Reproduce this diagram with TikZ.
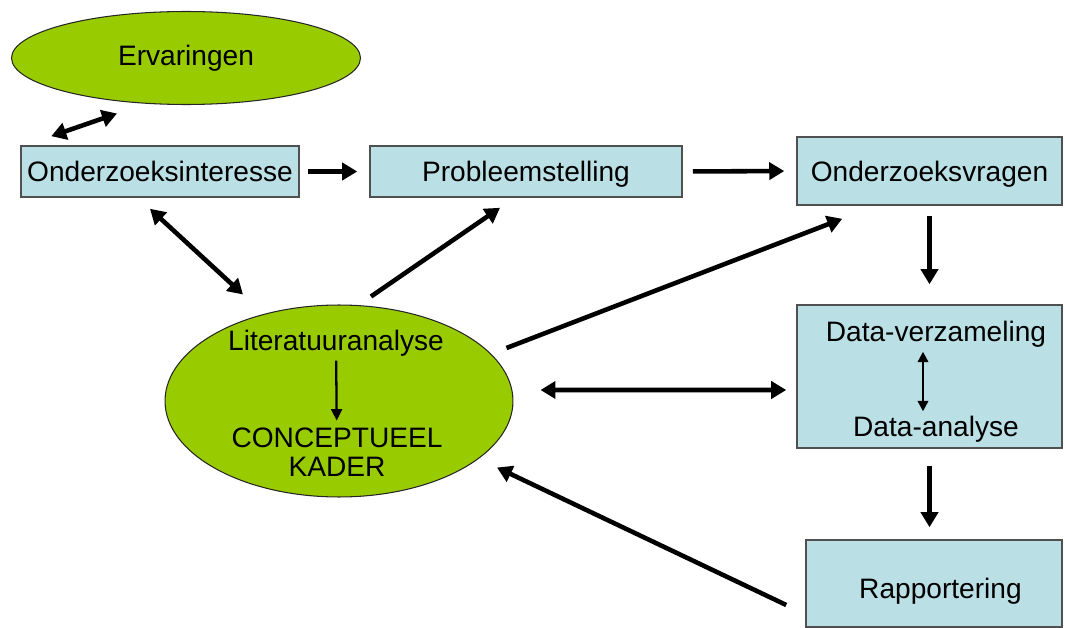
\documentclass[tikz,border=0pt]{standalone}
\usepackage{fontspec}
\setmainfont{Liberation Sans}
\usetikzlibrary{arrows.meta,positioning,shapes.geometric}
\definecolor{leaf}{HTML}{99CC00}
\definecolor{boxfill}{HTML}{BADFE4}
\definecolor{boxline}{HTML}{505050}
\tikzset{
  blob/.style={ellipse, draw=black!85, line width=.6pt, fill=leaf, inner sep=0pt,
               font=\fontsize{16}{16.5}\selectfont, align=center},
  box/.style={rectangle, draw=boxline, line width=.9pt, fill=boxfill, inner sep=0pt,
              text height=11.5pt, text depth=0pt,
              font=\fontsize{16}{16.5}\selectfont, align=center},
  lbl/.style={font=\fontsize{16}{16.5}\selectfont, align=center, inner sep=1pt},
  arrow/.style={-{Triangle[length=3mm,width=3.4mm]}, line width=2.6pt},
  dblarr/.style={arrow, {Triangle[length=3mm,width=3.4mm]}-{Triangle[length=3mm,width=3.4mm]}},
  thinarr/.style={-{Triangle[length=2.3mm,width=2.2mm]}, line width=1.3pt},
  thindbl/.style={thinarr, {Triangle[length=2.1mm,width=2.1mm]}-{Triangle[length=2.1mm,width=2.1mm]}}
}
\begin{document}
\begin{tikzpicture}[x=0.02cm, y=-0.02cm]
  \useasboundingbox (0,0) rectangle (1065,628);

  \node[blob, minimum width=6.98cm, minimum height=1.86cm] (erv) at (186,58) {Ervaringen};
  \node[box, minimum width=5.56cm, minimum height=1.02cm] (interesse) at (160,171.5) {Onderzoeksinteresse};
  \node[box, minimum width=6.24cm, minimum height=1.02cm] (probleem) at (526,171.5) {Probleemstelling};
  \node[box, minimum width=5.3cm, minimum height=1.36cm] (vragen) at (929.5,171) {Onderzoeksvragen};
  \node[box, minimum width=5.3cm, minimum height=2.86cm] (data) at (929.5,376.5) {};
  \node[box, minimum width=5.12cm, minimum height=1.74cm] (rapport) at (934,583.5) {\raisebox{-.1cm}{\hspace*{.26cm}Rapportering}};
  \node[blob, minimum width=6.96cm, minimum height=3.84cm] (kader) at (339,401) {};

  % text inside the big ellipse and the data box
  \node[lbl] (lit) at (336,343) {Literatuuranalyse};
  \node[lbl] (concept) at (337,452) {CONCEPTUEEL\\KADER};
  \node[lbl] (verz) at (936,334) {Data-verzameling};
  \node[lbl] (anal) at (936,429) {Data-analyse};

  \draw[dblarr] ([shift={(-69,8.5)}]erv.south) -- ([shift={(31,-9)}]interesse.north west);
  \draw[arrow, shorten <=.16cm, shorten >=.24cm] (interesse.east) -- (probleem.west);
  \draw[arrow, shorten <=.2cm, shorten >=.24cm] (probleem.east) -- (vragen.west);
  \draw[arrow, shorten <=.2cm, shorten >=.4cm] (vragen.south) -- (data.north);
  \draw[arrow, shorten <=.34cm, shorten >=.24cm] (data.south) -- (data.south |- rapport.north);
  \draw[dblarr] ([shift={(-10,11)}]interesse.south) -- ([shift={(-96,-10)}]kader.north);
  \draw[arrow] ([shift={(32,-8)}]kader.north) -- ([shift={(-26,10)}]probleem.south);
  \draw[arrow] ([shift={(-7,-53)}]kader.east) -- ([shift={(46,13)}]vragen.south west);
  \draw[dblarr] ([shift={(27,-11)}]kader.east) -- ([shift={(-10,13.5)}]data.west);
  \draw[arrow] ([shift={(-19,21.5)}]rapport.west) -- ([shift={(158,-30)}]kader.south);

  \draw[thinarr, shorten <=.05cm, shorten >=.1cm] (lit) -- (concept);
  \draw[thindbl, shorten <=.05cm, shorten >=.05cm] ([xshift=-.26cm]verz.south) -- ([xshift=-.26cm]anal.north);
\end{tikzpicture}
\end{document}
